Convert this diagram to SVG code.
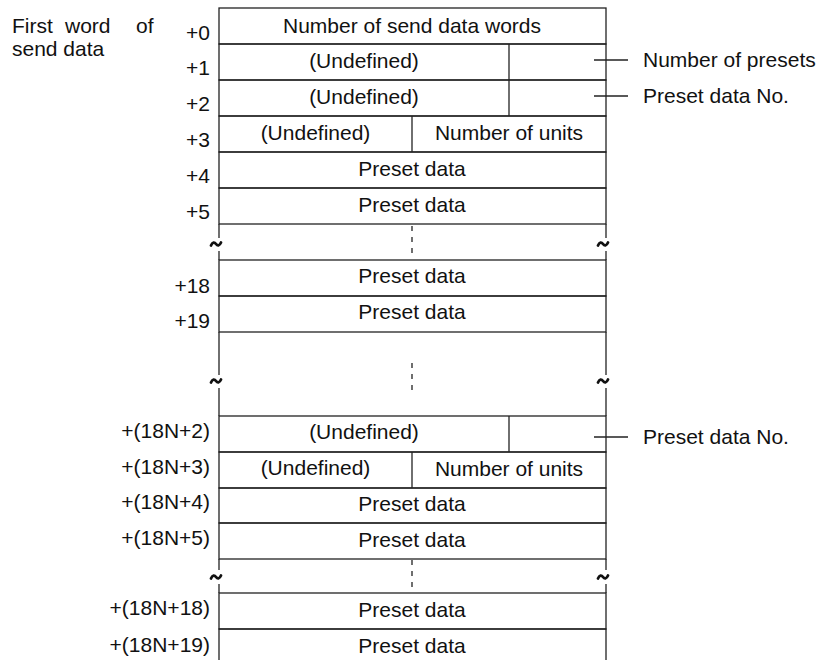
<svg xmlns="http://www.w3.org/2000/svg" width="819" height="660" viewBox="0 0 819 660">
<style>
text{font-family:"Liberation Sans",Arial,sans-serif;font-size:21px;fill:#111}
.c{text-anchor:middle}
.r{text-anchor:end}
.box{fill:none;stroke:#222;stroke-width:1.3}
.ln{stroke:#222;stroke-width:1.3;fill:none}
.dash{stroke:#222;stroke-width:1.3;stroke-dasharray:5 6;fill:none}
.til{stroke:#111;stroke-width:2.8;fill:none;stroke-linecap:round}
</style>
<defs>
<path id="tilde" d="M-5 1.5 C-3.5 -2,-1.5 -2,0 0 S3.5 2,5 -1.5"/>
</defs>
<rect width="819" height="660" fill="#fff"/>
<text x="12" y="33">First</text><text x="65" y="33">word</text><text x="136" y="33">of</text>
<text x="12" y="56">send data</text>

<g id="row0"><rect class="box" x="219" y="8" width="387" height="36"/><text class="c" x="412" y="33">Number of send data words</text><text class="r" x="210" y="40">+0</text></g>
<g id="row1"><rect class="box" x="219" y="44" width="387" height="36"/><line class="ln" x1="509" y1="44" x2="509" y2="80"/><text class="c" x="364" y="68">(Undefined)</text><text class="r" x="210" y="75">+1</text></g>
<g id="row2"><rect class="box" x="219" y="80" width="387" height="36"/><line class="ln" x1="509" y1="80" x2="509" y2="116"/><text class="c" x="364" y="104">(Undefined)</text><text class="r" x="210" y="111">+2</text></g>
<g id="row3"><rect class="box" x="219" y="116" width="387" height="36"/><line class="ln" x1="412" y1="116" x2="412" y2="152"/><text class="c" x="315.5" y="140">(Undefined)</text><text class="c" x="509" y="140">Number of units</text><text class="r" x="210" y="147">+3</text></g>
<g id="row4"><rect class="box" x="219" y="152" width="387" height="36"/><text class="c" x="412" y="176">Preset data</text><text class="r" x="210" y="183">+4</text></g>
<g id="row5"><rect class="box" x="219" y="188" width="387" height="36"/><text class="c" x="412" y="212">Preset data</text><text class="r" x="210" y="219">+5</text></g>

<g id="gap1">
<line class="ln" x1="219" y1="224" x2="219" y2="238"/><line class="ln" x1="219" y1="251" x2="219" y2="260"/>
<line class="ln" x1="606" y1="224" x2="606" y2="238"/><line class="ln" x1="606" y1="251" x2="606" y2="260"/>
<line class="dash" x1="412" y1="226" x2="412" y2="259"/>
<use href="#tilde" class="til" x="216" y="244"/><use href="#tilde" class="til" x="603" y="244"/>
</g>

<g id="row18"><rect class="box" x="219" y="260" width="387" height="36"/><text class="c" x="412" y="283">Preset data</text><text class="r" x="210" y="293">+18</text></g>
<g id="row19"><rect class="box" x="219" y="296" width="387" height="36"/><text class="c" x="412" y="319">Preset data</text><text class="r" x="210" y="328">+19</text></g>

<g id="gap2">
<line class="ln" x1="219" y1="332" x2="219" y2="375"/><line class="ln" x1="219" y1="388" x2="219" y2="416"/>
<line class="ln" x1="606" y1="332" x2="606" y2="375"/><line class="ln" x1="606" y1="388" x2="606" y2="416"/>
<line class="dash" x1="412" y1="363" x2="412" y2="394"/>
<use href="#tilde" class="til" x="216" y="381"/><use href="#tilde" class="til" x="603" y="381"/>
</g>

<g id="rowN2"><rect class="box" x="219" y="416" width="387" height="36"/><line class="ln" x1="509" y1="416" x2="509" y2="452"/><text class="c" x="364" y="439">(Undefined)</text><text class="r" x="210" y="438">+(18N+2)</text></g>
<g id="rowN3"><rect class="box" x="219" y="452" width="387" height="36"/><line class="ln" x1="412" y1="452" x2="412" y2="488"/><text class="c" x="315.5" y="475">(Undefined)</text><text class="c" x="509" y="476">Number of units</text><text class="r" x="210" y="474">+(18N+3)</text></g>
<g id="rowN4"><rect class="box" x="219" y="488" width="387" height="35"/><text class="c" x="412" y="511">Preset data</text><text class="r" x="210" y="509">+(18N+4)</text></g>
<g id="rowN5"><rect class="box" x="219" y="523" width="387" height="36"/><text class="c" x="412" y="547">Preset data</text><text class="r" x="210" y="545">+(18N+5)</text></g>

<g id="gap3">
<line class="ln" x1="219" y1="559" x2="219" y2="570"/><line class="ln" x1="219" y1="584" x2="219" y2="593"/>
<line class="ln" x1="606" y1="559" x2="606" y2="570"/><line class="ln" x1="606" y1="584" x2="606" y2="593"/>
<line class="dash" x1="412" y1="560" x2="412" y2="591"/>
<use href="#tilde" class="til" x="216" y="577"/><use href="#tilde" class="til" x="603" y="577"/>
</g>

<g id="rowN18"><rect class="box" x="219" y="593" width="387" height="36"/><text class="c" x="412" y="617">Preset data</text><text class="r" x="210" y="615">+(18N+18)</text></g>
<g id="rowN19"><rect class="box" x="219" y="629" width="387" height="40"/><text class="c" x="412" y="653">Preset data</text><text class="r" x="210" y="652">+(18N+19)</text></g>

<g id="connectors">
<line class="ln" x1="594" y1="60" x2="628" y2="60"/>
<line class="ln" x1="594" y1="96" x2="628" y2="96"/>
<line class="ln" x1="594" y1="437" x2="628" y2="437"/>
</g>
<g id="callouts">
<text x="643" y="67">Number of presets</text>
<text x="643" y="103">Preset data No.</text>
<text x="643" y="444">Preset data No.</text>
</g>
</svg>
